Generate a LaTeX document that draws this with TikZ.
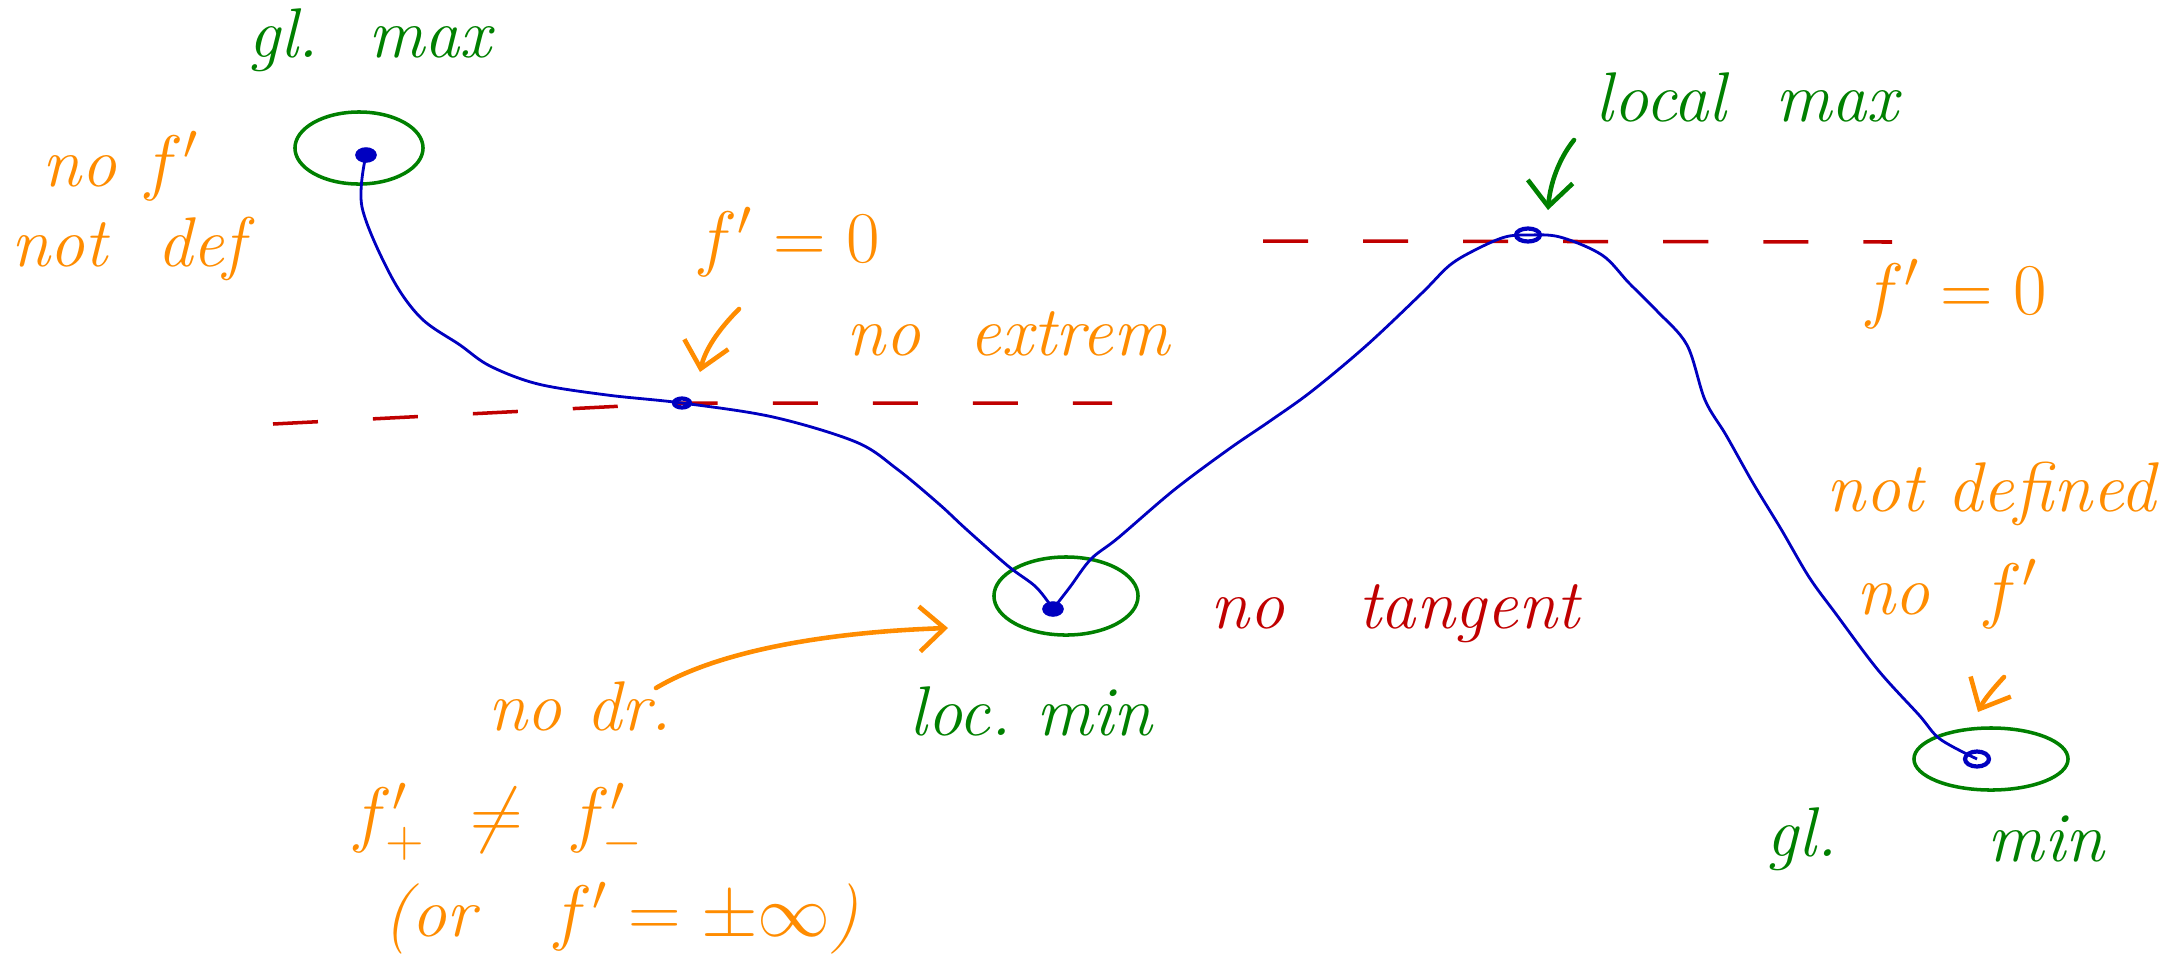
\documentclass[tikz,border=0pt]{standalone}
\usetikzlibrary{arrows.meta,shapes.geometric}
\definecolor{hgreen}{RGB}{0,128,0}
\definecolor{horange}{RGB}{255,140,0}
\definecolor{hred}{RGB}{192,0,0}
\definecolor{hblue}{RGB}{0,0,192}
\begin{document}
\begin{tikzpicture}[x=0.01cm,y=-0.01cm,
  hand/.style={font=\fontsize{20}{24}\selectfont\itshape, inner sep=0pt},
  greentxt/.style={hand,text=hgreen},
  orangetxt/.style={hand,text=horange},
  redtxt/.style={hand,text=hred},
  ring/.style={draw=hgreen, line width=1pt, ellipse, inner sep=0pt},
  curve/.style={draw=hblue, line width=0.8pt, line join=round},
  dot/.style={draw=hblue, fill=hblue, ellipse, inner sep=0pt, minimum width=0.18cm, minimum height=0.12cm, line width=1pt},
  opendot/.style={draw=hblue, ellipse, inner sep=0pt, minimum width=0.16cm, minimum height=0.09cm, line width=1.2pt},
  tline/.style={draw=hred, line width=1pt, dash pattern=on 0.45cm off 0.55cm},
  note/.style={line width=1.3pt, line cap=round, -{Straight Barb[length=2.5mm,width=4.5mm]}},
]
\useasboundingbox (0,0) rectangle (2165,960);

% key points
\coordinate (pGM) at (366,155);
\coordinate (pIn) at (682,403);
\coordinate (pLm) at (1053,609);
\coordinate (pLM) at (1528,235);
\coordinate (pGm) at (1977,759);

% tangent lines
\draw[tline] (273,424) coordinate (tlA) -- (pIn) -- (1112,403) coordinate (tlB);
\draw[tline] (1263,241) coordinate (trA) -- (1892,242) coordinate (trB);

% rings
\node[ring, minimum width=1.28cm, minimum height=0.72cm] (glmaxring) at (359,148) {};
\node[ring, minimum width=1.44cm, minimum height=0.78cm] (locminring) at (1066,596) {};
\node[ring, minimum width=1.54cm, minimum height=0.62cm] (glminring) at (1991,759) {};

% blue curve
\draw[curve] plot[smooth, tension=0.55] coordinates {(pGM) (362,207) (391,276) (421,318) (460,345) (490,366) (538,384) (607,395) (pIn) (773,417) (856,442) (897,469) (939,504) (966,529) (1008,566) (1036,587) (pLm)};
\draw[curve] plot[smooth, tension=0.55] coordinates {(pLm) (1070,587) (1091,559) (1118,538) (1174,490) (1229,449) (1270,421) (1312,391) (1367,345) (1422,293) (1450,265) (1477,249) (1505,237) (pLM) (1560,237) (1602,255) (1629,283) (1657,311) (1687,345) (1705,400) (1726,435) (1753,483) (1781,529) (1809,577) (1836,614) (1878,670) (1919,715) (1940,739) (pGm)};

% dots
\node[dot] (glmaxdot) at (pGM) {};
\node[opendot] (infldot) at (pIn) {};
\node[dot] (locmindot) at (pLm) {};
\node[opendot, minimum width=0.24cm, minimum height=0.13cm] (locmaxdot) at (pLM) {};
\node[opendot, minimum width=0.24cm, minimum height=0.15cm] (glmindot) at (pGm) {};

% labels
\node[greentxt] (glmax) at (370,40) {gl.\ \ max};
\node[orangetxt] (nof1) at (121,166) {no $f'$};
\node[orangetxt] (notdef) at (128,249) {not\ \ def};
\node[orangetxt] (fzero1) at (787,242) {$f'=0$};
\node[orangetxt] (noextrem) at (1008,334) {no\ \ extrem};
\node[redtxt] (notangent) at (1395,614) {no\ \ \ tangent};
\node[orangetxt] (nodr) at (580,706) {no dr.};
\node[greentxt] (locmin) at (1031,711) {loc.\ min};
\node[orangetxt] (fpm) at (497,822) {$f'_{+}\ \neq\ f'_{-}$};
\node[orangetxt] (orinf) at (621,918) {(or\ \ \ $f'=\pm\infty$)};
\node[greentxt] (localmax) at (1747,97) {local\ \ max};
\node[orangetxt] (fzero2) at (1954,294) {$f'=0$};
\node[orangetxt, anchor=east] (notdefined) at (2156,494) {not defined};
\node[orangetxt] (nof2) at (1947,594) {no\ \ $f'$};
\node[greentxt] (gl) at (1802,839) {gl.};
\node[greentxt] (min) at (2046,839) {min};

% pointer arrows
\coordinate (a1s) at (739,309);
\coordinate (a1e) at (700,372);
\draw[note, draw=horange] (a1s) .. controls (718,330) and (705,350) .. (a1e);
\coordinate (a2s) at (656,688);
\coordinate (a2e) at (948,628);
\draw[note, draw=horange] (a2s) .. controls (720,650) and (830,632) .. (a2e);
\coordinate (a3s) at (1574,140);
\coordinate (a3e) at (1548,210);
\draw[note, draw=hgreen] (a3s) .. controls (1558,160) and (1550,185) .. (a3e);
\coordinate (a4s) at (2004,677);
\coordinate (a4e) at (1978,712);
\draw[note, draw=horange] (a4s) .. controls (1992,690) and (1984,700) .. (a4e);
\end{tikzpicture}
\end{document}
